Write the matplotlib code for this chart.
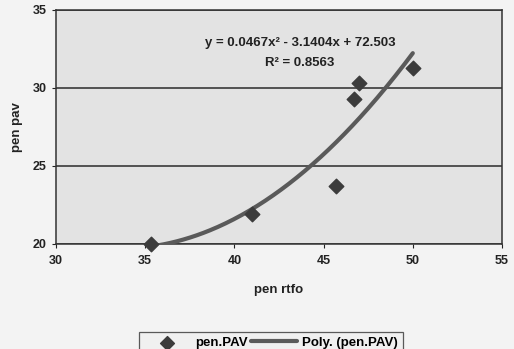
import numpy as np
import matplotlib.pyplot as plt

# data
pen_rtfo = [35.3, 41.0, 45.7, 46.7, 47.0, 50.0]
pen_pav = [20.0, 21.9, 23.7, 29.3, 30.3, 31.3]

# trendline coefficients printed on the chart
poly_coef = [0.0467, -3.1404, 72.503]
r_squared = 0.8563

plt.rcParams['font.family'] = ['Liberation Sans', 'DejaVu Sans']
plt.rcParams['font.weight'] = 'bold'

fig = plt.figure(figsize=(5.14, 3.49), dpi=100, facecolor='#f3f3f3')
ax = fig.add_axes([56/514, 1 - 244/349, (502-56)/514, (244-10)/349])
ax.set_facecolor('#e3e3e3')

# trendline
xs = np.linspace(min(pen_rtfo), max(pen_rtfo), 200)
ys = np.polyval(poly_coef, xs)
ax.plot(xs, ys, color='#5a5a5a', lw=3, solid_capstyle='round', zorder=3,
        label='Poly. (pen.PAV)')

# points
ax.scatter(pen_rtfo, pen_pav, marker='D', s=55, color='#3c3c3c', zorder=4,
           label='pen.PAV', clip_on=False)

ax.set_xlim(30, 55)
ax.set_ylim(20, 35)
ax.set_xticks([30, 35, 40, 45, 50, 55])
ax.set_yticks([20, 25, 30, 35])
ax.yaxis.grid(True, color='#2a2a2a', lw=1.1)
ax.set_axisbelow(True)
for sp in ax.spines.values():
    sp.set_color('#333333')
    sp.set_linewidth(1.1)
ax.tick_params(axis='both', labelsize=9, colors='#222222', length=3, width=0.8)
ax.tick_params(axis='x', pad=5)

ax.set_xlabel('pen rtfo', fontsize=9.5, fontweight='bold', color='#222222', labelpad=12)
ax.set_ylabel('pen pav', fontsize=9.5, fontweight='bold', color='#222222', labelpad=7)

eq = 'y = %.4fx² - %.4fx + %.3f' % (poly_coef[0], -poly_coef[1], poly_coef[2])
ax.text(300, 349 - 43, eq, transform=None, ha='center', va='center', fontsize=9.5,
        fontweight='bold', color='#222222')
ax.text(300, 349 - 63, 'R² = %.4f' % r_squared, transform=None, ha='center',
        va='center', fontsize=9.5, fontweight='bold', color='#222222')

h, l = ax.get_legend_handles_labels()
leg = fig.legend(h[::-1], l[::-1], loc='upper left',
                 bbox_to_anchor=(132/514, 1 - 325/349), ncol=2, fontsize=9.5,
                 frameon=True, fancybox=False, edgecolor='#333333',
                 facecolor='#f0f0f0', handlelength=3.5, columnspacing=0.2,
                 borderpad=0.4, handletextpad=0.4, markerscale=0.95)
leg.get_frame().set_linewidth(0.9)

fig.savefig('out.png', dpi=100, facecolor=fig.get_facecolor())
